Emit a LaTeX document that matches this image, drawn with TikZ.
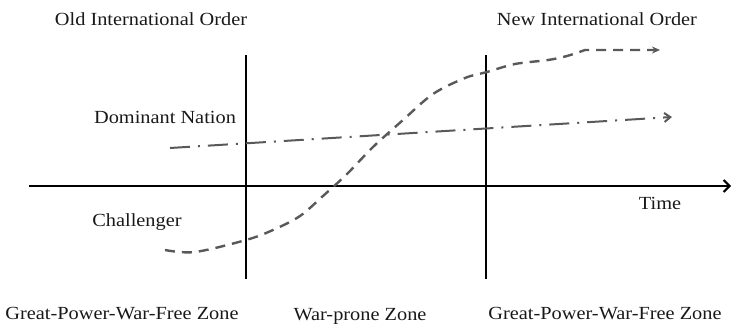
\documentclass[tikz,border=0pt]{standalone}
\usepackage{fontspec}
\setmainfont{Liberation Serif}[FakeStretch=1.1]
\usetikzlibrary{arrows.meta}
\begin{document}
\begin{tikzpicture}[x=1pt,y=-1pt,
  lbl/.style={font=\fontsize{18.5}{20}\selectfont, inner sep=0pt, text=black!90},
  axisline/.style={line width=2pt, black},
  chal/.style={line width=2.4pt, black!65, dash pattern=on 10pt off 7pt, -{Stealth[length=8pt,width=7pt]}},
  domi/.style={line width=2pt, black!65, dash pattern=on 20pt off 8pt on 2pt off 8pt, -{Straight Barb[length=6pt,width=9pt]}}]
\useasboundingbox (0,0) rectangle (731,324);
% axes
\coordinate (tl) at (29,186);
\coordinate (tr) at (731,186);
\draw[axisline,-{Straight Barb[length=6pt,width=12pt]}] (tl) -- (tr);
\coordinate (v1t) at (246,55); \coordinate (v1b) at (246,279);
\coordinate (v2t) at (486,55); \coordinate (v2b) at (486,279);
\draw[axisline] (v1t) -- (v1b);
\draw[axisline] (v2t) -- (v2b);
% dominant nation
\coordinate (ds) at (170,148);
\coordinate (de) at (672,117);
\draw[domi] (ds) -- (de);
% challenger
\coordinate (cs) at (165,250);
\coordinate (ce) at (660,50);
\draw[chal] plot[smooth, tension=0.55] coordinates {(165,250) (195,252) (246,240) (273,230) (300,216) (323,196) (347,174) (373,147) (403,120) (433,94) (465,78) (487,72) (515,64) (548,60) (567,56) (585,50)} -- (ce);
% labels
\node[lbl] (old) at (151,19) {Old International Order};
\node[lbl] (new) at (597,19) {New International Order};
\node[lbl] (dom) at (165,117) {Dominant Nation};
\node[lbl] (cha) at (137,222) {Challenger};
\node[lbl] (time) at (660,203) {Time};
\node[lbl] (gl) at (122,314) {Great-Power-War-Free Zone};
\node[lbl] (wp) at (360,316) {War-prone Zone};
\node[lbl] (gr) at (605,314) {Great-Power-War-Free Zone};
\end{tikzpicture}
\end{document}
